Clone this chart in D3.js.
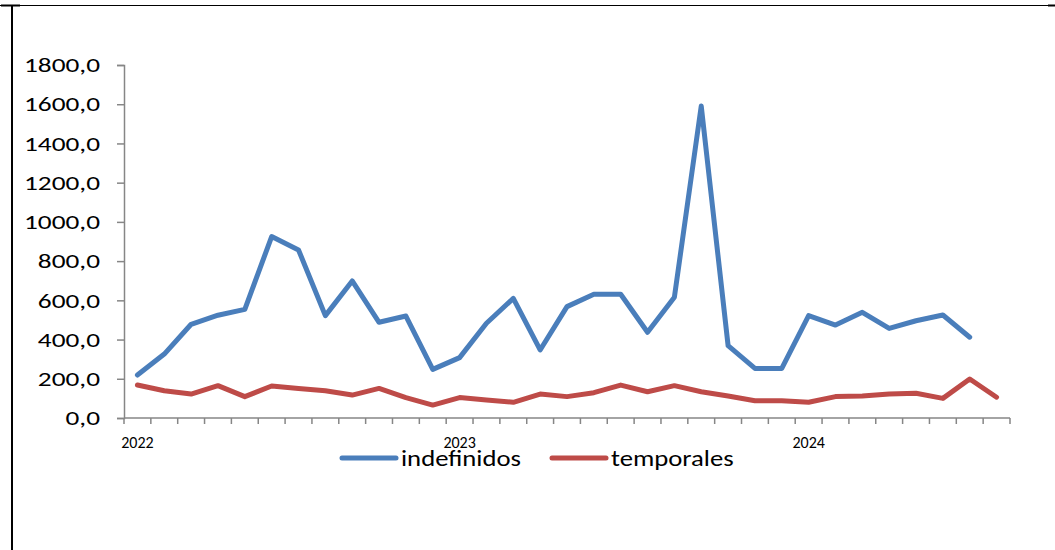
<!DOCTYPE html>
<html>
<head>
<meta charset="utf-8">
<script src="https://cdn.jsdelivr.net/npm/d3@7"></script>
<style>
  body { margin: 0; background: #fff; }
  svg { display: block; font-family: Carlito, Lato, "Open Sans", sans-serif; }
</style>
</head>
<body>
<svg id="chart"></svg>
<script>
// Chart size
const width = 1055;
const height = 550;
const margin = {top: 65, right: 45, bottom: 132, left: 124};

// Data: monthly values Jan 2022 .. Sep 2024
const months = d3.range(33).map(i => i);
const yearLabels = ["2022", "2023", "2024"];
const yearLabelIndex = [0, 12, 25];
const indefinidos = [219, 326, 478, 524, 554, 925, 857, 522, 699, 488, 520, 248,
                     308, 483, 610, 347, 568, 631, 631, 437, 616, 1591, 369, 253,
                     253, 522, 474, 539, 457, 496, 525, 412];
const temporales = [168, 139, 122, 165, 109, 163, 151, 139, 117, 151, 104, 66,
                    104, 92, 80, 122, 109, 129, 168, 134, 165, 134, 112, 88,
                    88, 80, 109, 112, 122, 126, 100, 199, 106];
const yTicks = [0, 200, 400, 600, 800, 1000, 1200, 1400, 1600, 1800];

const series = [
    {name: "indefinidos", values: indefinidos, color: "#4a7ebb"},
    {name: "temporales", values: temporales, color: "#be4b48"}
];

// widen text a bit, the reference font runs wide
function stretch(sel, factor) {
    sel.each(function() {
        const w = this.getComputedTextLength();
        d3.select(this).attr("textLength", w * factor).attr("lengthAdjust", "spacingAndGlyphs");
    });
}

const svg = d3.select("#chart")
    .attr("width", width)
    .attr("height", height);

// Outer frame lines
svg.append("line").attr("x1", 0).attr("x2", width).attr("y1", 5.5).attr("y2", 5.5)
    .attr("stroke", "#000").attr("stroke-width", 1);
svg.append("line").attr("x1", 1).attr("x2", 20).attr("y1", 5.5).attr("y2", 5.5)
    .attr("stroke", "#000").attr("stroke-width", 2);
svg.append("line").attr("x1", 1048).attr("x2", width).attr("y1", 5.5).attr("y2", 5.5)
    .attr("stroke", "#000").attr("stroke-width", 2);
svg.append("line").attr("x1", 12).attr("x2", 12).attr("y1", 5).attr("y2", height)
    .attr("stroke", "#000").attr("stroke-width", 2);

// Scales
const x = d3.scaleBand()
    .domain(months)
    .range([margin.left, width - margin.right]);

const y = d3.scaleLinear()
    .domain([0, 1800])
    .range([height - margin.bottom, margin.top]);

const axisColor = "#868686";

// Y axis
const yAxis = svg.append("g")
    .attr("transform", `translate(${margin.left},0)`)
    .call(d3.axisLeft(y).tickValues(yTicks).tickSize(7).tickPadding(17)
        .tickFormat(d => d3.format(".1f")(d).replace(".", ",")));
yAxis.select(".domain").attr("stroke", axisColor).attr("stroke-width", 1.5);
yAxis.selectAll(".tick line").attr("stroke", axisColor).attr("stroke-width", 1.5);
yAxis.selectAll(".tick text").attr("fill", "#000").attr("font-size", 21)
    .attr("font-family", "Carlito, Lato, sans-serif")
    .call(stretch, 1.3);

// X axis: tick marks at category boundaries
const xBase = height - margin.bottom;
const xAxis = svg.append("g");
xAxis.append("line")
    .attr("x1", margin.left).attr("x2", width - margin.right)
    .attr("y1", xBase).attr("y2", xBase)
    .attr("stroke", axisColor).attr("stroke-width", 1.5);
xAxis.selectAll(".xtick")
    .data(months.concat([months.length]))
    .enter().append("line")
    .attr("class", "xtick")
    .attr("x1", d => d < months.length ? x(d) : x(months.length - 1) + x.bandwidth())
    .attr("x2", d => d < months.length ? x(d) : x(months.length - 1) + x.bandwidth())
    .attr("y1", xBase).attr("y2", xBase + 6)
    .attr("stroke", axisColor).attr("stroke-width", 1.5);

xAxis.selectAll(".year")
    .data(yearLabels)
    .enter().append("text")
    .attr("class", "year")
    .attr("x", (d, i) => x(yearLabelIndex[i]) + x.bandwidth() / 2)
    .attr("y", 448)
    .attr("text-anchor", "middle")
    .attr("font-size", 16)
    .text(d => d);

// Lines
const line = d3.line()
    .x((d, i) => x(i) + x.bandwidth() / 2)
    .y(d => y(d));

svg.selectAll(".series")
    .data(series)
    .enter().append("path")
    .attr("class", "series")
    .attr("d", d => line(d.values))
    .attr("fill", "none")
    .attr("stroke", d => d.color)
    .attr("stroke-width", 5)
    .attr("stroke-linejoin", "round")
    .attr("stroke-linecap", "round");

// Legend
const legendPos = [342, 552];
const legend = svg.selectAll(".legend")
    .data(series)
    .enter().append("g")
    .attr("class", "legend")
    .attr("transform", (d, i) => `translate(${legendPos[i]},458)`);
legend.append("line")
    .attr("x1", 0).attr("x2", 54)
    .attr("stroke", d => d.color)
    .attr("stroke-width", 5)
    .attr("stroke-linecap", "round");
legend.append("text")
    .attr("x", 59)
    .attr("y", 8)
    .attr("font-size", 23)
    .text(d => d.name)
    .call(stretch, 1.16);
</script>
</body>
</html>
